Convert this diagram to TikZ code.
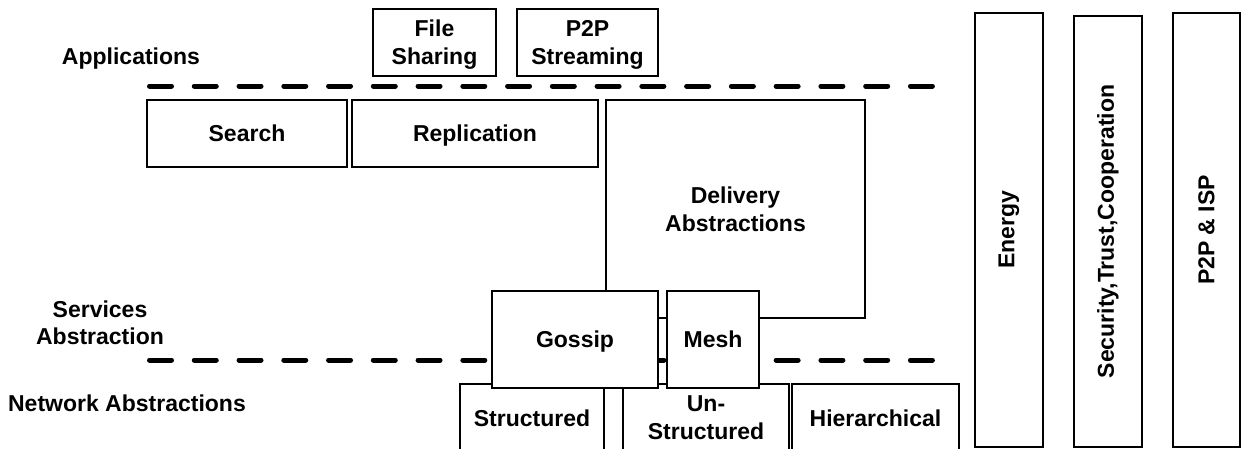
\documentclass[tikz,border=0pt]{standalone}
\usepackage{fontspec}
\setmainfont{Liberation Sans}
\begin{document}
\begin{tikzpicture}[x=1pt,y=-1pt,
  boxbase/.style={draw=black,line width=1.5pt,fill=white,rectangle,inner sep=0pt,align=center,
    font=\bfseries\fontsize{23}{28}\selectfont},
  box/.style={boxbase,text depth=-3pt},
  vbox/.style={boxbase,rotate=90},
  lbl/.style={inner sep=0pt,align=center,font=\bfseries\fontsize{23}{27}\selectfont},
  layerline/.style={line width=5pt,line cap=round,dash pattern=on 22pt off 22.76pt}]
\clip (0,0) rectangle (1244,448);
\fill[white] (0,0) rectangle (1244,448);
% labels
\node[lbl] (apps) at (131,59) {Applications};
\node[lbl] (serv) at (100,323) {Services\\Abstraction};
\node[lbl] (net) at (127,403) {Network Abstractions};
% application boxes
\node[box,minimum width=123,minimum height=67] (fs) at (434.5,42.5) {File\\Sharing};
\node[box,minimum width=141,minimum height=67] (stream) at (587.5,42.5) {P2P\\Streaming};
% service boxes
\node[box,minimum width=200,minimum height=67] (search) at (247,133.5) {Search};
\node[box,minimum width=246,minimum height=67] (repl) at (475,133.5) {Replication};
\node[box,minimum width=259,minimum height=218] (deliv) at (735.5,209) {Delivery\\Abstractions};
% network boxes
\node[box,minimum width=144,minimum height=68] (struct) at (532,418) {Structured};
\node[box,minimum width=166,minimum height=68] (unstruct) at (706,418) {Un-\\Structured};
\node[box,minimum width=167,minimum height=68] (hier) at (875.5,418) {Hierarchical};
% layer lines
\coordinate (l1a) at (149.5,86);
\coordinate (l1b) at (932.5,86);
\coordinate (l2a) at (149.5,360);
\coordinate (l2b) at (932.5,360);
\draw[layerline] (l1a) -- (l1b);
\draw[layerline] (l2a) -- (l2b);
% overlay boxes
\node[box,minimum width=166,minimum height=97] (gossip) at (575,339.5) {Gossip};
\node[box,minimum width=92,minimum height=97] (mesh) at (713,339.5) {Mesh};
% vertical boxes
\node[vbox,minimum width=434,minimum height=68] (energy) at (1009,230) {Energy};
\node[vbox,minimum width=431,minimum height=68] (sec) at (1108,231.5) {Security,Trust,Cooperation};
\node[vbox,minimum width=434,minimum height=67] (isp) at (1206.5,230) {P2P \& ISP};
\end{tikzpicture}
\end{document}
